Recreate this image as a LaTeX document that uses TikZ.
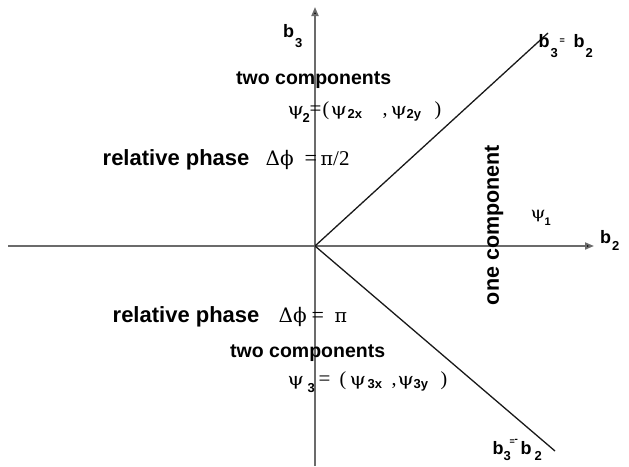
\documentclass[tikz,border=0pt]{standalone}
\usepackage{fontspec}
\setmainfont{Liberation Sans}
\newfontfamily\grk{DejaVu Serif}
\newfontfamily\grl{Liberation Serif}
\usetikzlibrary{arrows.meta}
\newcommand\gk[2][19]{{\grk\fontsize{#1}{#1}\selectfont #2}}
\newcommand\gl[2][19]{{\grl\fontsize{#1}{#1}\selectfont #2}}
\newcommand\psw[1][17.5]{\scalebox{1.2}[1]{\gk[#1]{ψ}}}
\newcommand\sbb[3][13]{\raisebox{-#2pt}{\fontsize{#1}{#1}\selectfont\bfseries #3}}
\newcommand\pc[2]{\rlap{\hspace{#1pt}#2}}
\begin{document}
\begin{tikzpicture}[x=1pt,y=-1pt,
  axisline/.style={draw=black!58, line width=1.8pt, -{Triangle[length=9pt,width=7pt,fill=black]}},
  diag/.style={draw=black!90, line width=1.3pt},
  txt/.style={inner sep=0pt, anchor=base west},
  bold19/.style={font=\fontsize{19.5}{19.5}\selectfont\bfseries},
  blab/.style={txt, font=\fontsize{18}{18}\selectfont\bfseries}]
\useasboundingbox (0,0) rectangle (629,466);
\coordinate (O) at (315,246);
\coordinate (L) at (8,246);
\coordinate (R) at (594,246);
\coordinate (T) at (315,7);
\coordinate (B) at (315,466);
\coordinate (UR) at (548,33);
\coordinate (LR) at (555,451);
\draw[axisline] (L) -- (R);
\draw[axisline] (B) -- (T);
\draw[diag] (O) -- (UR);
\draw[diag] (O) -- (LR);
% axis labels
\node[blab] (b3lab) at (283,37) {b\hspace{1pt}\sbb{10}{3}};
\node[blab] (b2lab) at (600,243) {b\hspace{1pt}\sbb{7}{2}};
\node[blab] (d1lab) at (538,47) {\pc{0}{b}\pc{12}{\sbb{10}{3}}\pc{21}{\raisebox{4pt}{\fontsize{9}{9}\selectfont =}}\pc{35}{b}\pc{47}{\sbb{10}{2}}\hspace{58pt}};
\node[blab] (d2lab) at (492,454) {\pc{0}{b}\pc{11}{\sbb{6}{3}}\pc{17}{\raisebox{10pt}{\fontsize{9}{9}\selectfont =}}\pc{22}{\raisebox{12pt}{\fontsize{10}{10}\selectfont -}}\pc{28}{b}\pc{42}{\sbb{6}{2}}\hspace{54pt}};
% one component
\node[inner sep=0pt, rotate=90, font=\fontsize{21.5}{21.5}\selectfont\bfseries] (one) at (494,225) {one component};
\node[txt] (psi1) at (530,218) {\pc{0}{\psw[16]}\pc{14}{\sbb[11]{7}{1}}\hspace{22pt}};
% upper
\node[txt, bold19] (two2) at (236,84) {two components};
\node[txt] (f2) at (287,115) {\pc{0}{\psw}\pc{15}{\sbb{7}{2}}\pc{22}{\gl[21]{=}}\pc{35}{\gl[20]{(}}\pc{43}{\psw}\pc{60}{\sbb{3}{2x}}\pc{95}{\gl[20]{,}}\pc{103}{\psw}\pc{119}{\sbb{3}{2y}}\pc{147}{\gl[20]{)}}\hspace{154pt}};
\node[txt] (ph2) at (102,165) {\pc{0}{\fontsize{22}{22}\selectfont\bfseries relative phase}\pc{163}{\gk[20]{Δϕ}}\pc{202}{\gl[22]{=}}\pc{218}{\gk[19]{π}\gl[21]{/2}}\hspace{256pt}};
% lower
\node[txt] (ph3) at (112,322) {\pc{0}{\fontsize{22}{22}\selectfont\bfseries relative phase}\pc{166}{\gk[20]{Δϕ}}\pc{199}{\gl[22]{=}}\pc{222}{\gk[19]{π}}\hspace{236pt}};
\node[txt, bold19] (two3) at (230,357) {two components};
\node[txt] (f3) at (287,385) {\pc{0}{\psw}\pc{20}{\sbb{7}{3}}\pc{31}{\gl[21]{=}}\pc{52}{\gl[20]{(}}\pc{62}{\psw}\pc{80}{\sbb{3}{3x}}\pc{104}{\gl[20]{,}}\pc{110}{\psw}\pc{126}{\sbb{3}{3y}}\pc{153}{\gl[20]{)}}\hspace{160pt}};
\end{tikzpicture}
\end{document}
